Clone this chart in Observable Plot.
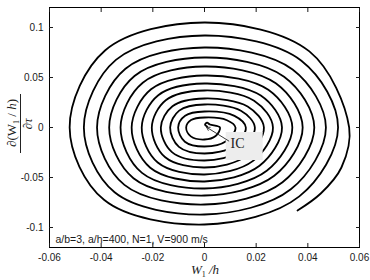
<!DOCTYPE html>
<html>
<head>
<meta charset="utf-8">
<script src="https://cdn.jsdelivr.net/npm/d3@7"></script>
<script src="https://cdn.jsdelivr.net/npm/@observablehq/plot@0.6"></script>
<style>
  html, body { margin: 0; padding: 0; background: white; }
  #chart { width: 370px; height: 280px; }
</style>
</head>
<body>
<div id="chart"></div>
<script>
// ---- data ----
// small initial loop around the initial condition (IC)
const loopX = [0.0010, 0.0002, 0.0010, 0.0021];
const loopY = [0.0010, 0.0028, 0.0048, 0.0030];
// spiral, one value per turn; clockwise order within a turn:
// right, right-bottom, bottom, bottom-left, left, left-top, top, top-right
const rightX  = [0.0060, 0.0120, 0.0160, 0.0195, 0.0230, 0.0265, 0.0300, 0.0340, 0.0380, 0.0425, 0.0470, 0.0517, 0.0560];
const rbX = [0.0043, 0.0085, 0.0114, 0.0138, 0.0163, 0.0188, 0.0213, 0.0241, 0.0270, 0.0302, 0.0334, 0.0367];
const rbY = [-0.0085, -0.0135, -0.0185, -0.0234, -0.0284, -0.0334, -0.0383, -0.0433, -0.0483, -0.0547, -0.0618, -0.0689];
const bottomY = [-0.012, -0.019, -0.026, -0.033, -0.040, -0.047, -0.054, -0.061, -0.068, -0.077, -0.087, -0.097];
const blX = [-0.0053, -0.0076, -0.0099, -0.0126, -0.0152, -0.0181, -0.0210, -0.0242, -0.0275, -0.0310, -0.0348, -0.0389];
const blY = [-0.0089, -0.0142, -0.0194, -0.0246, -0.0298, -0.0350, -0.0402, -0.0454, -0.0507, -0.0574, -0.0648, -0.0723];
const leftX   = [-0.0071, -0.0102, -0.0133, -0.0169, -0.0204, -0.0243, -0.0282, -0.0325, -0.0369, -0.0416, -0.0467, -0.0522];
const ltX = [-0.0052, -0.0075, -0.0098, -0.0124, -0.0150, -0.0179, -0.0207, -0.0239, -0.0271, -0.0306, -0.0343, -0.0384];
const ltY = [0.0074, 0.0118, 0.0169, 0.0213, 0.0272, 0.0323, 0.0382, 0.0448, 0.0515, 0.0588, 0.0676, 0.0772];
const topY    = [0.010, 0.016, 0.023, 0.029, 0.037, 0.044, 0.052, 0.061, 0.070, 0.080, 0.092, 0.105];
const trX = [0.0087, 0.0116, 0.0141, 0.0167, 0.0192, 0.0218, 0.0247, 0.0276, 0.0308, 0.0341, 0.0375, 0.0406];
const trY = [0.0073, 0.0116, 0.0167, 0.0210, 0.0268, 0.0319, 0.0377, 0.0442, 0.0508, 0.0580, 0.0667, 0.0761];
// final arc of the trajectory, after the last right crossing
const endX = [0.053, 0.045, 0.036];
const endY = [-0.040, -0.066, -0.083];

const xTicks = [-0.06, -0.04, -0.02, 0, 0.02, 0.04, 0.06];
const xTickLabels = ["-0.06", "-0.04", "-0.02", "0", "0.02", "0.04", "0.06"];
const yTicks = [-0.1, -0.05, 0, 0.05, 0.1];
const yTickLabels = ["-0.1", "-0.05", "0", "0.05", "0.1"];

const noteText = ["a/b=3, a/h=400, N=1, V=900 m/s"];
const icLabel = ["IC"];
const icLabelPos = [0.0128, -0.016];
const icArrowFrom = [0.0094, -0.0135];
const icArrowTo = [0.0008, 0.0003];
const icBoxX = [0.0084, 0.0227];
const icBoxY = [-0.033, -0.005];

// ---- build the trajectory table ----
const pts = [];
loopX.forEach((x, i) => pts.push({x, y: loopY[i]}));
for (let i = 0; i < bottomY.length; i++) {
  pts.push({x: rightX[i], y: 0});
  pts.push({x: rbX[i], y: rbY[i]});
  pts.push({x: 0, y: bottomY[i]});
  pts.push({x: blX[i], y: blY[i]});
  pts.push({x: leftX[i], y: 0});
  pts.push({x: ltX[i], y: ltY[i]});
  pts.push({x: 0, y: topY[i]});
  pts.push({x: trX[i], y: trY[i]});
}
pts.push({x: rightX[rightX.length - 1], y: 0});
endX.forEach((x, i) => pts.push({x, y: endY[i]}));

const fmt = (labels, ticks) => d => labels[ticks.indexOf(d)];

const chart = Plot.plot({
  width: 370,
  height: 280,
  marginLeft: 49,
  marginRight: 11,
  marginTop: 7,
  marginBottom: 33,
  x: {domain: [-0.06, 0.06]},
  y: {domain: [-0.12, 0.12]},
  style: {fontFamily: "'Liberation Sans', Arial, sans-serif", fontSize: "10px", color: "#1a1a1a", background: "white"},
  marks: [
    Plot.line(pts, {x: "x", y: "y", curve: "catmull-rom", stroke: "black", strokeWidth: 1.8}),
    Plot.rect([0], {x1: () => icBoxX[0], x2: () => icBoxX[1], y1: () => icBoxY[0], y2: () => icBoxY[1], fill: "#ededed"}),
    Plot.arrow([0], {x1: () => icArrowFrom[0], y1: () => icArrowFrom[1], x2: () => icArrowTo[0], y2: () => icArrowTo[1], stroke: "#222", strokeWidth: 0.9, headLength: 6, bend: false}),
    Plot.text(icLabel, {x: () => icLabelPos[0], y: () => icLabelPos[1], text: d => d, fontFamily: "'Liberation Serif', 'Times New Roman', serif", fontSize: 14, fill: "#222"}),
    Plot.text(noteText, {frameAnchor: "bottom-left", text: d => d, dx: 6, dy: -5, textAnchor: "start", fontSize: 10.5, fill: "#1a1a1a"}),
    Plot.frame({stroke: "black", strokeWidth: 1}),
    Plot.axisX(xTicks, {anchor: "bottom", tickSize: -4, tickPadding: 10, tickFormat: fmt(xTickLabels, xTicks), label: null}),
    Plot.axisX(xTicks, {anchor: "top", tickSize: -4, tickFormat: () => "", label: null}),
    Plot.axisY(yTicks, {anchor: "left", tickSize: -4, tickPadding: 10, tickFormat: fmt(yTickLabels, yTicks), label: null}),
    Plot.axisY(yTicks, {anchor: "right", tickSize: -4, tickFormat: () => "", label: null})
  ]
});

document.getElementById("chart").appendChild(chart);

// ---- axis titles (math-style) ----
const svg = d3.select(chart);
const serif = "'Liberation Serif', 'Times New Roman', serif";
// x label: W1 / h
const xl = svg.append("text")
  .attr("x", 205).attr("y", 274)
  .attr("text-anchor", "middle")
  .attr("font-family", serif).attr("font-size", 13).attr("fill", "#222");
xl.append("tspan").attr("font-style", "italic").text("W");
xl.append("tspan").attr("font-size", 8).attr("dy", 3).text("1");
xl.append("tspan").attr("dy", -3).attr("font-style", "italic").text(" /h");

// y label: ∂(W1 / h) over ∂τ, rotated
const yl = svg.append("g").attr("font-family", serif).attr("fill", "#222");
const num = yl.append("text")
  .attr("transform", "translate(16,123) rotate(-90)")
  .attr("text-anchor", "middle").attr("font-size", 13);
num.append("tspan").text("∂(W");
num.append("tspan").attr("font-size", 8).attr("dy", 3).text("1");
num.append("tspan").attr("dy", -3).text(" / ");
num.append("tspan").attr("font-style", "italic").text("h");
num.append("tspan").text(")");
yl.append("line")
  .attr("x1", 20.5).attr("x2", 20.5).attr("y1", 94).attr("y2", 153)
  .attr("stroke", "#222").attr("stroke-width", 1);
yl.append("text")
  .attr("transform", "translate(32,124) rotate(-90)")
  .attr("text-anchor", "middle").attr("font-size", 13)
  .html("∂<tspan font-style='italic'>τ</tspan>");
</script>
</body>
</html>
